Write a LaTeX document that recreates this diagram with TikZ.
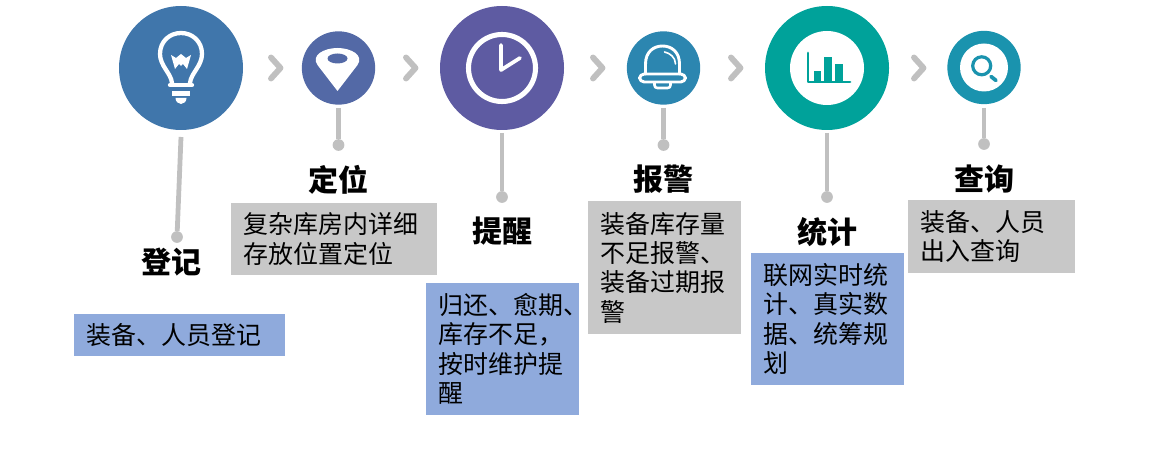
\documentclass[tikz,border=0pt]{standalone}
\usepackage{fontspec}
\setmainfont{Noto Sans CJK SC}
\definecolor{stemgray}{HTML}{C0C0C0}
\definecolor{boxgray}{HTML}{C8C8C8}
\definecolor{boxblue}{HTML}{8FAADC}
\definecolor{colreg}{HTML}{4076AB}
\definecolor{colpos}{HTML}{5369A6}
\definecolor{colclock}{HTML}{5E5BA2}
\definecolor{colbell}{HTML}{2C86B0}
\definecolor{colstat}{HTML}{00A29A}
\definecolor{colquery}{HTML}{1A93AE}

\begin{document}
\begin{tikzpicture}[x=0.75pt, y=-0.75pt,
      bigdisc/.style ={circle, inner sep = 0pt, minimum size=93pt},
      smalldisc/.style ={circle, inner sep = 0pt, minimum size=55pt},
      stemdot/.style ={circle, fill=stemgray, inner sep = 0pt, minimum size=8.8pt},
      stem/.style ={draw=stemgray, line width=3.6pt},
      chev/.style ={draw=stemgray, line width=4.4pt, line cap=round, line join=round},
      title/.style ={font=\fontsize{22.5}{27}\selectfont\bfseries},
      infobox/.style ={inner xsep=9.5pt, inner ysep=0pt, align=left,
        font=\fontsize{18.7}{22}\selectfont},
      icon/.style ={draw=white, line width=3.2pt, line cap=round, line join=round}]
   \useasboundingbox (0,0) rectangle (1169,466);

   % discs
   \node[bigdisc, fill=colreg] (reg) at (181,68) {};
   \node[smalldisc, fill=colpos] (pos) at (338.5,68) {};
   \node[bigdisc, fill=colclock] (clock) at (502,68) {};
   \node[smalldisc, fill=colbell] (bell) at (663.5,68) {};
   \node[bigdisc, fill=colstat] (stat) at (827,68) {};
   \node[smalldisc, fill=colquery] (query) at (984,67.5) {};

   % arrows between the discs
   \foreach \x in {268,403,590,728,911}
     \draw[chev] (\x+3,57.5) -- (\x+12.5,68) -- (\x+3,78.5);

   % stems
   \coordinate (sreg) at (181,137);
   \coordinate (spos) at (338.5,108);
   \coordinate (sclock) at (502,133);
   \coordinate (sbell) at (663.5,108);
   \coordinate (sstat) at (827,133);
   \coordinate (squery) at (984,108);
   \node[stemdot] (dreg) at (177,237) {};
   \node[stemdot] (dpos) at (338.5,145) {};
   \node[stemdot] (dclock) at (502,197) {};
   \node[stemdot] (dbell) at (663.5,145) {};
   \node[stemdot] (dstat) at (827,197) {};
   \node[stemdot] (dquery) at (984,144) {};
   \draw[stem] (sreg) to (dreg);
   \draw[stem] (spos) to (dpos);
   \draw[stem] (sclock) to (dclock);
   \draw[stem] (sbell) to (dbell);
   \draw[stem] (sstat) to (dstat);
   \draw[stem] (squery) to (dquery);

   % titles
   \node[title] (treg) at (171,262) {登记};
   \node[title] (tpos) at (338.5,180) {定位};
   \node[title] (tclock) at (502,231) {提醒};
   \node[title] (tbell) at (663.5,179) {报警};
   \node[title] (tstat) at (827,232) {统计};
   \node[title] (tquery) at (984,179) {查询};

   % text boxes
   \node[infobox, fill=boxblue, text width=139.25pt, minimum height=31.5pt] (breg) at (179.5,335)
     {装备、人员登记};
   \node[infobox, fill=boxgray, text width=135.5pt, minimum height=54pt] (bpos) at (334,239)
     {复杂库房内详细\\存放位置定位};
   \node[infobox, fill=boxblue, text width=95.75pt, minimum height=99pt] (bclock) at (502.5,349)
     {归还、愈期、\\库存不足，\\按时维护提\\醒};
   \node[infobox, fill=boxgray, text width=95.75pt, minimum height=99.75pt] (bbell) at (664.5,267.5)
     {装备库存量\\不足报警、\\装备过期报\\警};
   \node[infobox, fill=boxblue, text width=95.75pt, minimum height=99pt] (bstat) at (827.5,319)
     {联网实时统\\计、真实数\\据、统筹规\\划};
   \node[infobox, fill=boxgray, text width=106.25pt, minimum height=54.75pt] (bquery) at (991.5,236.5)
     {装备、人员\\出入查询};

   % bulb
   \begin{scope}[shift={(reg)}]
     \draw[icon] (-9,15) .. controls (-10,5) and (-21,-2) .. (-21,-14)
        .. controls (-21,-27) and (-11,-35) .. (0,-35)
        .. controls (11,-35) and (21,-27) .. (21,-14)
        .. controls (21,-2) and (10,5) .. (9,15);
     \draw[icon] (-11,17) -- (11,17);
     \fill[white] (-9,23) rectangle (9,28);
     \fill[white] (-5.5,30) -- (5.5,30) arc[start angle=0, end angle=180, x radius=5.5, y radius=6] ;
     \fill[white] (-10,-13) -- (-5,-10) -- (0,-14) -- (5,-10) -- (10,-13) -- (6,1) -- (2,-4) -- (0,-2) -- (-2,-4) -- (-6,1) -- cycle;
   \end{scope}

   % pin
   \begin{scope}[shift={(pos)}]
     \fill[white] (-1,23) -- (-21,-3) .. controls (-28,-13) and (-14,-20) .. (-1,-20)
        .. controls (12,-20) and (26,-13) .. (19,-3) -- cycle;
     \fill[colpos] (-1,-9.5) ellipse[x radius=10, y radius=5];
   \end{scope}

   % clock
   \begin{scope}[shift={(clock)}]
     \draw[white, line width=3.8pt] (0,0) circle[radius=33.5];
     \draw[icon, line width=2.8pt] (-1,-23) -- (-1,2) -- (18,-10);
   \end{scope}

   % bell
   \begin{scope}[shift={(bell)}]
     \draw[icon, line width=2.2pt, rounded corners=3.5pt] (-24,6) rectangle (22,14);
     \draw[icon, line width=2.2pt] (-18,6) -- (-18,-4) .. controls (-18,-16) and (-10,-22) .. (-1,-22)
        .. controls (8,-22) and (16,-16) .. (16,-4) -- (16,6);
     \draw[icon, line width=2pt] (-9,14.5) -- (-9,17) .. controls (-9,19) and (-8,20) .. (-6,20)
        -- (4,20) .. controls (6,20) and (7,19) .. (7,17) -- (7,14.5);
     \draw[icon, line width=1.2pt] (1,-16) .. controls (6,-15) and (12,-11) .. (12,-4);
   \end{scope}

   % chart
   \fill[white] (stat) circle[radius=37];
   \begin{scope}[shift={(stat)}]
     \draw[colstat, line width=2.2pt, line cap=round, line join=round] (-19,-15) -- (-19,14) -- (23,14);
     \fill[colstat] (-13,3) rectangle (-6,14);
     \fill[colstat] (-3,-11) rectangle (5,14);
     \fill[colstat] (8,-3.5) rectangle (16,14);
   \end{scope}

   % magnifier
   \fill[white] (query) circle[radius=24];
   \begin{scope}[shift={(query)}]
     \draw[colquery, line width=2.4pt] (-2.3,-1.7) circle[radius=9];
     \draw[colquery, line width=2.8pt, line cap=round] (7,9) -- (12,13);
   \end{scope}
 \end{tikzpicture}
\end{document}
